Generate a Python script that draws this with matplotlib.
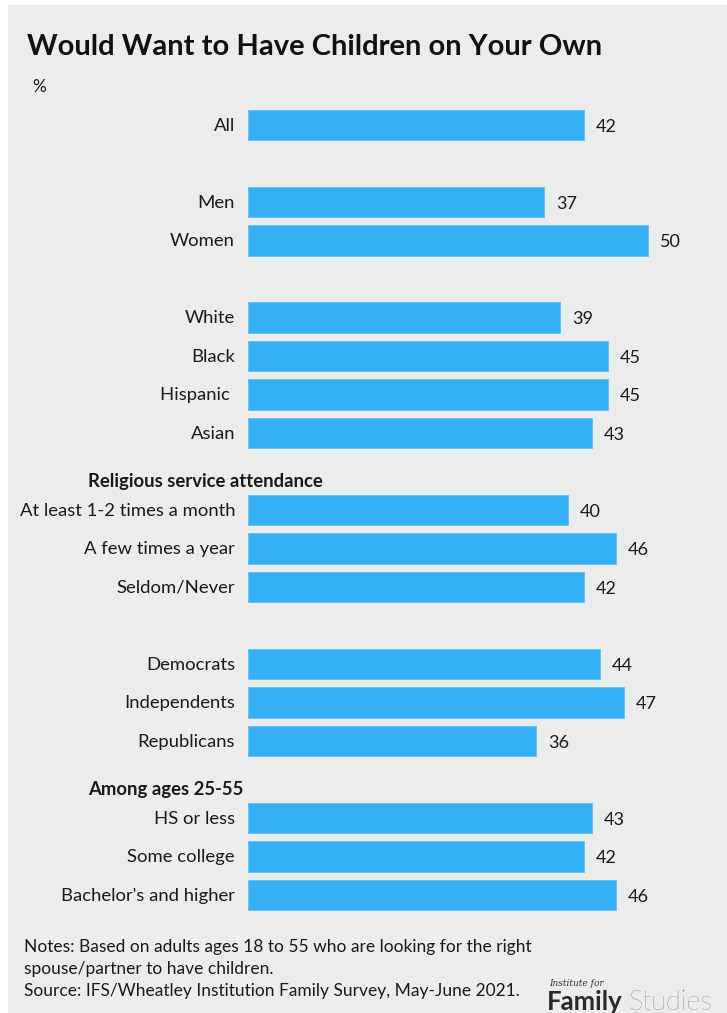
import matplotlib.pyplot as plt
from matplotlib import font_manager

# survey results, % who would want to have children on their own
groups = [
    (None, ["All"]),
    (None, ["Men", "Women"]),
    (None, ["White", "Black", "Hispanic ", "Asian"]),
    ("Religious service attendance", ["At least 1-2 times a month", "A few times a year", "Seldom/Never"]),
    (None, ["Democrats", "Independents", "Republicans"]),
    ("Among ages 25-55", ["HS or less", "Some college", "Bachelor's and higher"]),
]
values = [42, 37, 50, 39, 45, 45, 43, 40, 46, 42, 44, 47, 36, 43, 42, 46]

BLUE = '#36B0F5'
BG = '#ECECEC'
FONT = ['Lato', 'DejaVu Sans']
names = {f.name for f in font_manager.fontManager.ttflist}
NARROW = ['Liberation Sans Narrow', 'DejaVu Sans'] if 'Liberation Sans Narrow' in names else FONT

W, H = 727, 1013
fig = plt.figure(figsize=(W / 100, H / 100), dpi=100)
fig.patch.set_facecolor('white')
fig.patches.append(plt.Rectangle((8 / W, 0), 1, 1 - 5 / H, transform=fig.transFigure,
                                 facecolor=BG, edgecolor='none', zorder=-10))

# bar area: 8 px per percentage point, 38.5 px per row
x0, px_unit = 248, 8.0
y_top, row = 125, 38.5
ax = fig.add_axes([x0 / W, 1 - (y_top + 20.5 * row) / H, 55 * px_unit / W, 21 * row / H])
ax.set_xlim(0, 55)
ax.set_ylim(20.5, -0.5)
ax.axis('off')

labels, slots, headers = [], [], []
slot = 0
for gi, (head, items) in enumerate(groups):
    if gi > 0 and head:
        headers.append((head, slot - 1 + 0.26))
    for it in items:
        labels.append(it)
        slots.append(slot)
        slot += 1
    slot += 1

ax.barh(slots, values, height=0.8, color=BLUE, edgecolor='#5BC0F8', linewidth=0.6)
for s, v, lab in zip(slots, values, labels):
    ax.text(v + 12 / px_unit, s + 0.05, f'{v}', ha='left', va='center',
            fontsize=13, family=FONT, color='#1a1a1a')
    ax.text(-13 / px_unit, s + 0.02, lab, ha='right', va='center',
            fontsize=13.3, family=FONT, color='#1a1a1a')
for head, s in headers:
    ax.text(-20, s, head, ha='left', va='center', fontsize=13.3, family=FONT,
            fontweight='bold', color='#1a1a1a', clip_on=False)

fig.text(27 / W, 1 - 47 / H, 'Would Want to Have Children on Your Own', ha='left', va='center',
         fontsize=21, family=FONT, fontweight='bold', color='#111111')
fig.text(32 / W, 1 - 87 / H, '%', ha='left', va='center', fontsize=12.5, family=FONT, color='#1a1a1a')

notes = ("Notes: Based on adults ages 18 to 55 who are looking for the right\n"
         "spouse/partner to have children.\n"
         "Source: IFS/Wheatley Institution Family Survey, May-June 2021.")
fig.text(24 / W, 1 - 939 / H, notes, ha='left', va='top', fontsize=12.5, family=NARROW,
         color='#1a1a1a', linespacing=1.45)

fig.text(549 / W, 1 - 983 / H, 'Institute for', ha='left', va='center', fontsize=6.5,
         family=['DejaVu Serif'], style='italic', color='#333333')
fig.text(547 / W, 1 - 1002 / H, 'Family', ha='left', va='center', fontsize=18.5,
         family=FONT, fontweight='bold', color='#2a2a2a')
fig.text(629 / W, 1 - 1002 / H, 'Studies', ha='left', va='center', fontsize=19.5,
         family=FONT, fontweight='light', color='#666666')

fig.savefig('out.png', dpi=100, facecolor=fig.get_facecolor())
